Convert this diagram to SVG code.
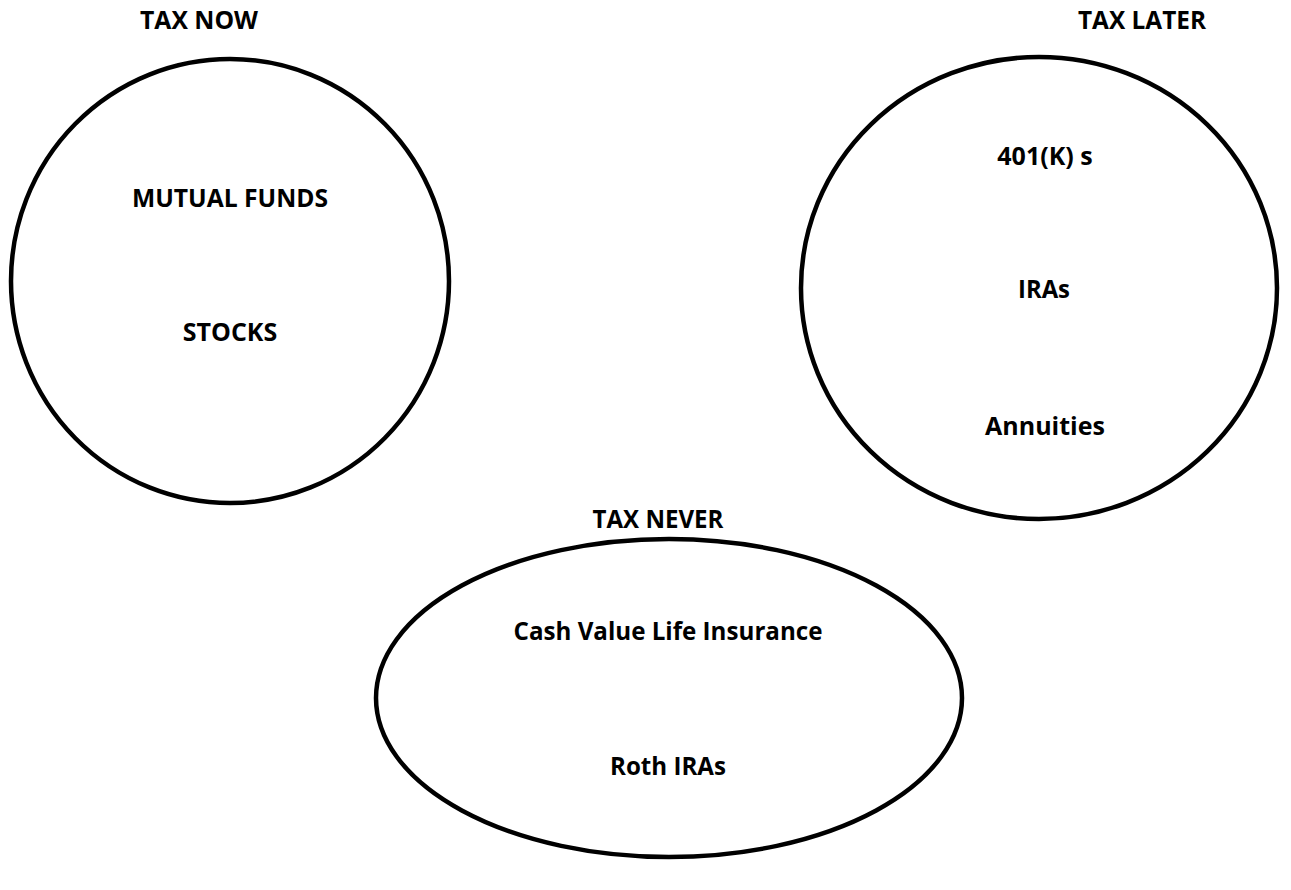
<svg xmlns="http://www.w3.org/2000/svg" width="1291" height="890" viewBox="0 0 1291 890">
  <style>
    .bucket { fill: none; stroke: #000; stroke-width: 4.5; }
    .label { font-family: "Open Sans", "Liberation Sans", sans-serif; font-weight: bold; font-size: 25px; fill: #000; text-anchor: middle; }
  </style>
  <rect width="1291" height="890" fill="#fff"/>

  <g id="tax-now">
    <ellipse class="bucket" cx="230" cy="281" rx="219" ry="222"/>
    <text class="label" x="199" y="29" textLength="118" lengthAdjust="spacingAndGlyphs">TAX NOW</text>
    <text class="label" x="230" y="207" textLength="196" lengthAdjust="spacingAndGlyphs">MUTUAL FUNDS</text>
    <text class="label" x="230" y="341">STOCKS</text>
  </g>

  <g id="tax-later">
    <ellipse class="bucket" cx="1039" cy="288" rx="238" ry="231"/>
    <text class="label" x="1142" y="29" textLength="128" lengthAdjust="spacingAndGlyphs">TAX LATER</text>
    <text class="label" x="1045" y="165">401(K) s</text>
    <text class="label" x="1044" y="298" textLength="52" lengthAdjust="spacingAndGlyphs">IRAs</text>
    <text class="label" x="1045" y="435">Annuities</text>
  </g>

  <g id="tax-never">
    <ellipse class="bucket" cx="669" cy="698" rx="293" ry="159"/>
    <text class="label" x="658" y="528" textLength="131" lengthAdjust="spacingAndGlyphs">TAX NEVER</text>
    <text class="label" x="668" y="640" textLength="309" lengthAdjust="spacingAndGlyphs">Cash Value Life Insurance</text>
    <text class="label" x="668" y="775" textLength="116" lengthAdjust="spacingAndGlyphs">Roth IRAs</text>
  </g>

  <g id="connectors"/>
</svg>
